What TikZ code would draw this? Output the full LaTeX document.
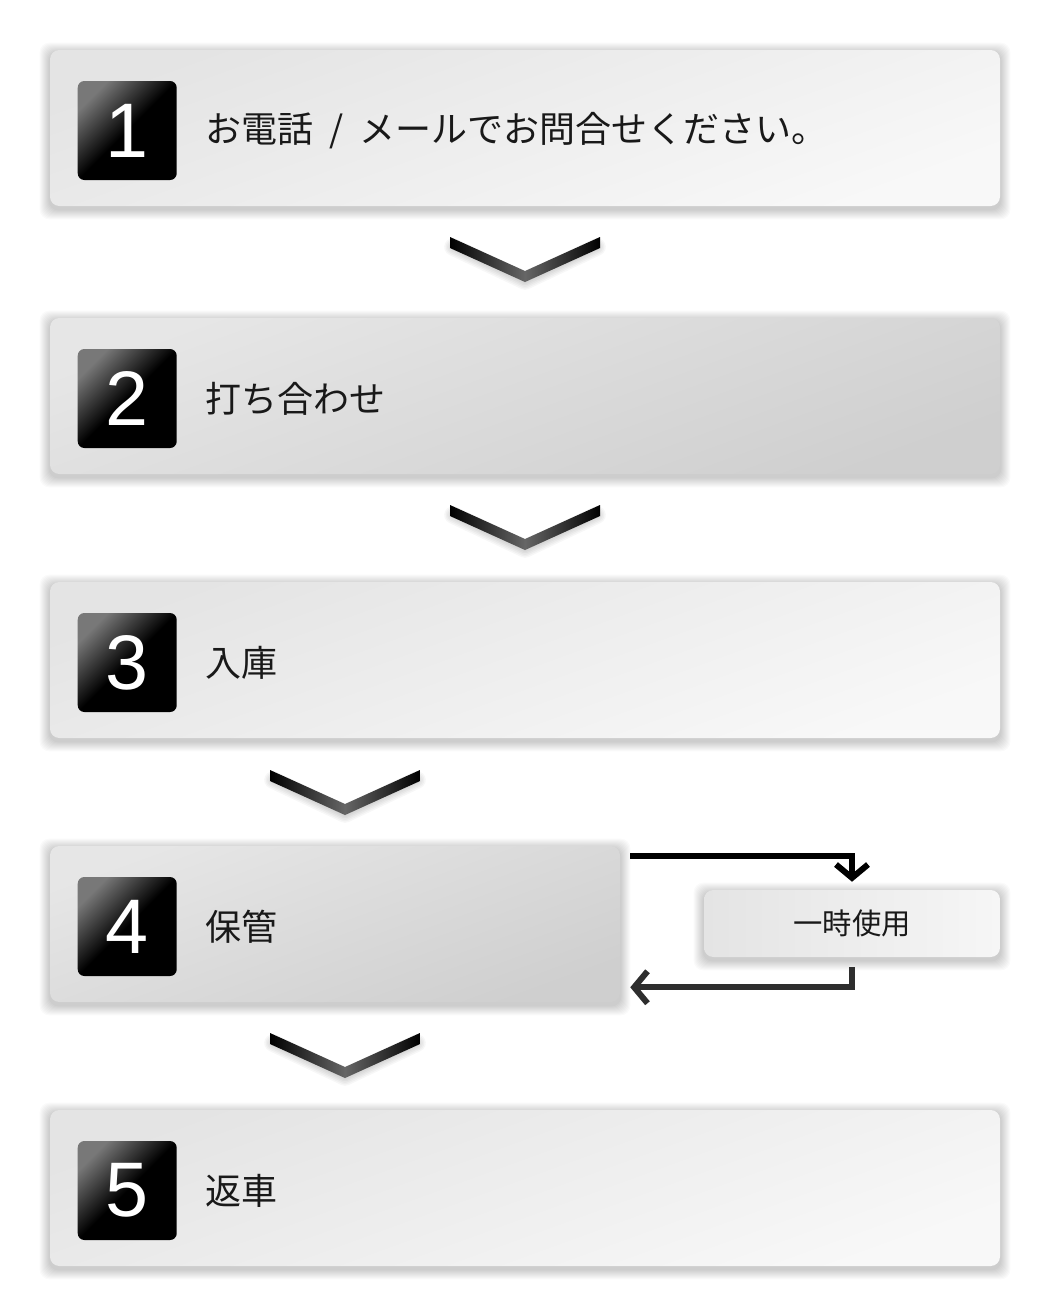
\documentclass[tikz,border=0pt]{standalone}
\usepackage{fontspec}
\setmainfont{Noto Sans CJK JP}
\newfontfamily\numfont{Liberation Sans}
\usetikzlibrary{positioning,calc,arrows.meta}
\pgfdeclarelayer{bg}
\pgfsetlayers{bg,main}
\definecolor{paleA}{HTML}{E4E4E4}
\definecolor{paleB}{HTML}{F8F8F8}
\definecolor{greyA}{HTML}{E6E6E6}
\definecolor{greyB}{HTML}{CFCFCF}
\definecolor{numgrey}{HTML}{787878}
\definecolor{loopgrey}{HTML}{2E2E2E}
\newcommand*{\Chevron}[2]{%
    \foreach \k in {1,...,6}
        \draw[black, opacity=0.03, line width=\k*2.2pt, line join=round, line cap=round]
            (#1-72,#2+10) -- (#1,#2+44) -- (#1+72,#2+10);
    \shade[chev] (#1-75,#2) -- ++(75,34) -- ++(75,-34) -- ++(0,11)
        -- ++(-75,34) -- ++(-75,-34) -- cycle;}

\tikzset{
    card/.style={rounded corners=7pt, inner sep=0pt, minimum height=117pt},
    palecard/.style={card, top color=paleA, bottom color=paleB, shading angle=20},
    greycard/.style={card, top color=greyA, bottom color=greyB, shading angle=20},
    cardshadow/.style={black, opacity=0.02, rounded corners=7pt},
    numbox/.style={rounded corners=5pt, inner sep=0pt, minimum size=74.25pt,
        top color=numgrey, bottom color=black, middle color=black, shading angle=45,
        text=white, font=\numfont\fontsize{58}{58}\selectfont},
    steplabel/.style={inner sep=0pt, text=black!90, font=\fontsize{27}{27}\selectfont},
    chev/.style={left color=black, right color=black, middle color=gray!80!black},
    looparrow/.style={line width=4.5pt, line join=miter,
        -{Straight Barb[length=10pt, width=24pt]}},
}

\begin{document}
\begin{tikzpicture}[x=0.75pt, y=-0.75pt]
    \useasboundingbox (0,0) rectangle (1050,1315);

    % steps
    \node[palecard, minimum width=712.5pt] (s1) at (525,128) {};
    \node[greycard, minimum width=712.5pt] (s2) at (525,396) {};
    \node[palecard, minimum width=712.5pt] (s3) at (525,660) {};
    \node[greycard, minimum width=427.5pt] (s4) at (335,924) {};
    \node[palecard, minimum width=712.5pt] (s5) at (525,1188) {};

    \foreach \i in {1,...,5}
        \node[numbox] (n\i) at ($(s\i.west)+(77.5,2.5)$) {\i};

    \node[steplabel, right=21pt of n1] (t1)
        {お電話\hspace{0.45em}/\hspace{0.45em}メールでお問合せください。};
    \node[steplabel, right=21pt of n2] (t2) {打ち合わせ};
    \node[steplabel, right=21pt of n3] (t3) {入庫};
    \node[steplabel, right=21pt of n4] (t4) {保管};
    \node[steplabel, right=21pt of n5] (t5) {返車};

    % temporary use
    \node[card, minimum width=222pt, minimum height=50.25pt,
        left color=paleA, right color=paleB!90!paleA] (use) at (852,923.5) {};
    \node[steplabel, font=\fontsize{22}{22}\selectfont] (tuse) at (use) {一時使用};

    % white page and soft shadows
    \begin{pgfonlayer}{bg}
        \fill[white] (0,0) rectangle (1050,1315);
        \foreach \b in {s1,s2,s3,s4,s5,use}
            \foreach \k in {1,...,10}
                \fill[cardshadow] ($(\b.south west)+(-\k,\k+3)$)
                    rectangle ($(\b.north east)+(\k,-\k+3)$);
    \end{pgfonlayer}

    % chevrons
    \Chevron{525}{237}
    \Chevron{525}{505}
    \Chevron{345}{770}
    \Chevron{345}{1033}

    \draw[looparrow] ($(s4.north east)+(10,10)$) -| ([yshift=6pt]use.north);
    \draw[looparrow, loopgrey] ([yshift=-7.5pt]use.south) |- ($(s4.south east)+(10,-15)$);
\end{tikzpicture}
\end{document}
